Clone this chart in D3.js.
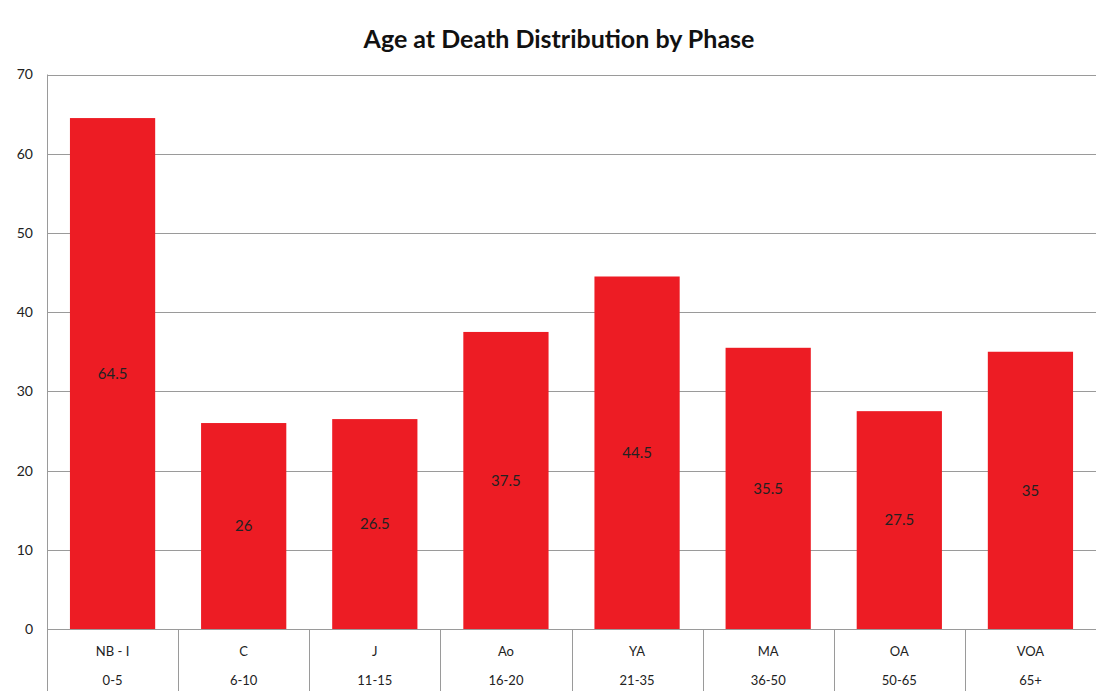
<!DOCTYPE html>
<html>
<head>
<meta charset="utf-8">
<script src="https://cdn.jsdelivr.net/npm/d3@7"></script>
<style>
  html, body { margin: 0; padding: 0; background: #fff; }
  svg { display: block; }
  text { font-family: Lato, "Open Sans", sans-serif; fill: #222; }
</style>
</head>
<body>
<svg id="chart" width="1096" height="691"></svg>
<script>
// Age at death by life phase
const phases = ["NB - I", "C", "J", "Ao", "YA", "MA", "OA", "VOA"];
const ageRanges = ["0-5", "6-10", "11-15", "16-20", "21-35", "36-50", "50-65", "65+"];
const values = [64.5, 26, 26.5, 37.5, 44.5, 35.5, 27.5, 35];
const yTicks = [0, 10, 20, 30, 40, 50, 60, 70];

const svg = d3.select("#chart");
const margin = { left: 47, right: 0, top: 74.5, bottom: 62 };
const W = 1096, H = 691;
const plotBottom = H - margin.bottom;

const x = d3.scaleBand()
  .domain(phases)
  .range([margin.left, W - margin.right])
  .paddingInner(0.35)
  .paddingOuter(0.175);

const y = d3.scaleLinear()
  .domain([0, 70])
  .range([plotBottom, margin.top]);

// Title
svg.append("text")
  .attr("x", 559).attr("y", 48)
  .attr("text-anchor", "middle")
  .style("font-size", "25px")
  .style("font-weight", "bold")
  .style("fill", "#111")
  .text("Age at Death Distribution by Phase");

// Horizontal gridlines
svg.append("g")
  .selectAll("line")
  .data(yTicks)
  .join("line")
  .attr("x1", margin.left).attr("x2", W)
  .attr("y1", d => Math.round(y(d)) + 0.5)
  .attr("y2", d => Math.round(y(d)) + 0.5)
  .attr("stroke", "#9a9a9a").attr("stroke-width", 1);

// Y axis labels
const yAxis = d3.axisLeft(y).tickValues(yTicks).tickSize(0).tickPadding(14);
const gy = svg.append("g")
  .attr("transform", `translate(${margin.left},0)`)
  .call(yAxis);
gy.select(".domain").remove();
gy.selectAll("text")
  .style("font-size", "14px")
  .style("font-family", "Lato, 'Open Sans', sans-serif")
  .style("fill", "#222");

// Vertical axis line
svg.append("line")
  .attr("x1", margin.left + 0.5).attr("x2", margin.left + 0.5)
  .attr("y1", y(70)).attr("y2", H)
  .attr("stroke", "#9a9a9a");

// Bars
svg.append("g")
  .selectAll("rect")
  .data(values)
  .join("rect")
  .attr("x", (d, i) => x(phases[i]))
  .attr("width", x.bandwidth())
  .attr("y", d => y(d))
  .attr("height", d => y(0) - y(d))
  .attr("fill", "#ed1c24");

// Value labels at bar midpoints
svg.append("g")
  .selectAll("text")
  .data(values)
  .join("text")
  .attr("x", (d, i) => x(phases[i]) + x.bandwidth() / 2)
  .attr("y", d => y(d / 2))
  .attr("dy", "0.35em")
  .attr("text-anchor", "middle")
  .style("font-size", "15px")
  .text(d => d);

// Category table separators below the axis
const step = x.step();
const bounds = d3.range(phases.length + 1).map(i => margin.left + i * step);
svg.append("g")
  .selectAll("line")
  .data(bounds.slice(1))
  .join("line")
  .attr("x1", d => Math.round(d) + 0.5).attr("x2", d => Math.round(d) + 0.5)
  .attr("y1", y(0)).attr("y2", H)
  .attr("stroke", "#9a9a9a");

// Category labels, two rows
const labels = svg.append("g");
labels.selectAll("text.phase")
  .data(phases)
  .join("text")
  .attr("class", "phase")
  .attr("x", d => x(d) + x.bandwidth() / 2)
  .attr("y", 656)
  .attr("text-anchor", "middle")
  .style("font-size", "13px")
  .text(d => d);
labels.selectAll("text.range")
  .data(ageRanges)
  .join("text")
  .attr("class", "range")
  .attr("x", (d, i) => x(phases[i]) + x.bandwidth() / 2)
  .attr("y", 685)
  .attr("text-anchor", "middle")
  .style("font-size", "13px")
  .text(d => d);
</script>
</body>
</html>
